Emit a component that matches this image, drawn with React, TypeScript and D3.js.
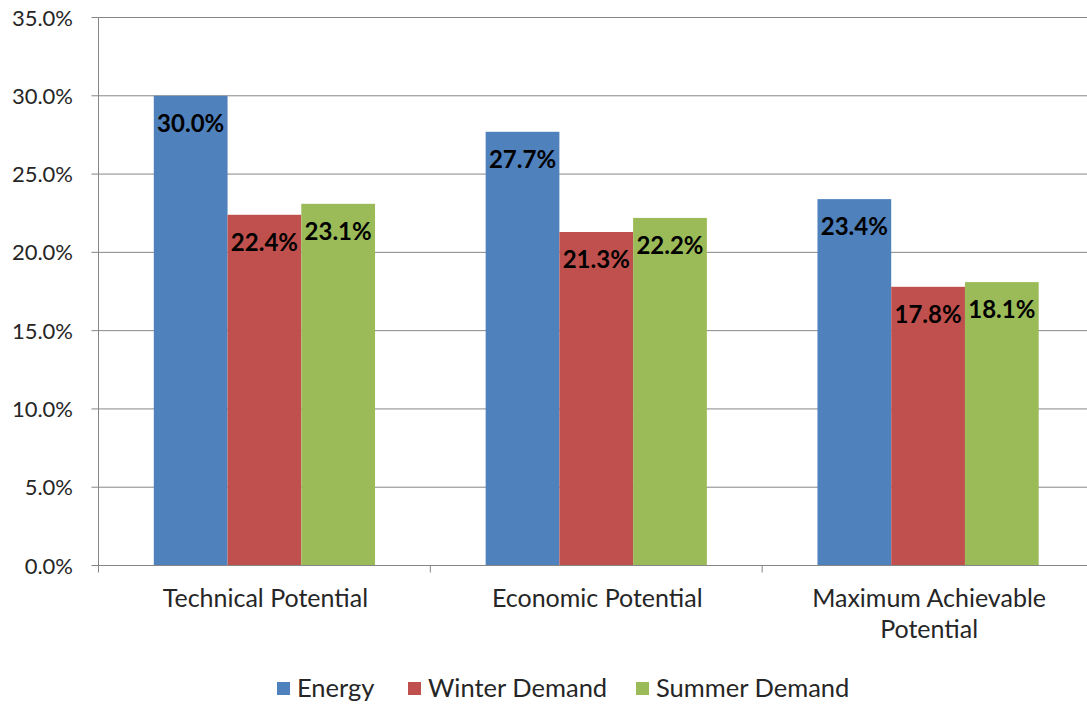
import React from "react";
import * as d3 from "d3";

const categories = [
  ["Technical Potential"],
  ["Economic Potential"],
  ["Maximum Achievable", "Potential"],
];
const seriesNames = ["Energy", "Winter Demand", "Summer Demand"];
const energy = [30.0, 27.7, 23.4];
const winterDemand = [22.4, 21.3, 17.8];
const summerDemand = [23.1, 22.2, 18.1];
const yTicks = [0, 5, 10, 15, 20, 25, 30, 35];
const colors = ["#4F81BD", "#C0504D", "#9BBB59"];

const W = 1087;
const H = 704;
const FONT = "Lato, 'Open Sans', sans-serif";

export default function App() {
  const series = [energy, winterDemand, summerDemand];
  const left = 98.5;
  const right = 1094;
  const y = d3.scaleLinear().domain([0, 35]).range([565.5, 17.5]);
  const x0 = d3
    .scaleBand<number>()
    .domain(categories.map((_, i) => i))
    .range([left, right])
    .padding(0);
  const x1 = d3
    .scaleBand<number>()
    .domain(seriesNames.map((_, i) => i))
    .range([0, x0.bandwidth()])
    .paddingInner(0)
    .paddingOuter(0.75);
  const fmt = (v: number) => d3.format(".1f")(v) + "%";
  const axisColor = "#868686";

  return (
    <svg
      width={W}
      height={H}
      style={{ position: "absolute", left: 0, top: 0, background: "#fff" }}
      fontFamily={FONT}
    >
      {/* horizontal gridlines and y tick labels */}
      {yTicks.map((t) => (
        <g key={t}>
          {t > 0 && (
            <line x1={left} x2={W} y1={y(t)} y2={y(t)} stroke={axisColor} strokeWidth={1} />
          )}
          <line x1={left - 7} x2={left} y1={y(t)} y2={y(t)} stroke={axisColor} strokeWidth={1} />
          <text x={73} y={y(t) + 8} textAnchor="end" fontSize={22} fill="#262626">
            {fmt(t)}
          </text>
        </g>
      ))}

      {/* bars */}
      {categories.map((_, ci) =>
        series.map((vals, si) => {
          const bx = (x0(ci) as number) + (x1(si) as number);
          const bw = x1.bandwidth();
          const top = y(vals[ci]);
          return (
            <g key={`${ci}-${si}`}>
              <rect
                x={bx}
                y={top}
                width={bw}
                height={y(0) - top}
                fill={colors[si]}
              />
              <text
                x={bx + bw / 2}
                y={top + 36}
                textAnchor="middle"
                fontSize={24}
                fontWeight={700}
                fill="#000"
              >
                {fmt(vals[ci])}
              </text>
            </g>
          );
        })
      )}

      {/* axes */}
      <line x1={left} x2={left} y1={y(35)} y2={y(0) + 7} stroke={axisColor} strokeWidth={1} />
      <line x1={left} x2={W} y1={y(0)} y2={y(0)} stroke={axisColor} strokeWidth={1} />
      {categories.map((_, i) => (
        <line
          key={i}
          x1={(x0(i) as number) + x0.bandwidth()}
          x2={(x0(i) as number) + x0.bandwidth()}
          y1={y(0)}
          y2={y(0) + 7}
          stroke={axisColor}
          strokeWidth={1}
        />
      ))}

      {/* category labels */}
      {categories.map((lines, i) => (
        <text
          key={i}
          x={(x0(i) as number) + x0.bandwidth() / 2 + 1}
          y={607}
          textAnchor="middle"
          fontSize={25}
          fill="#262626"
        >
          {lines.map((l, j) => (
            <tspan key={j} x={(x0(i) as number) + x0.bandwidth() / 2 + 1} dy={j === 0 ? 0 : 31}>
              {l}
            </tspan>
          ))}
        </text>
      ))}

      {/* legend */}
      {seriesNames.map((name, i) => {
        const lx = [277, 408, 636][i];
        return (
          <g key={name} transform={`translate(${lx},682)`}>
            <rect x={0} y={0} width={13} height={13} fill={colors[i]} />
            <text x={20} y={15} fontSize={25.5} fill="#262626">
              {name}
            </text>
          </g>
        );
      })}
    </svg>
  );
}
